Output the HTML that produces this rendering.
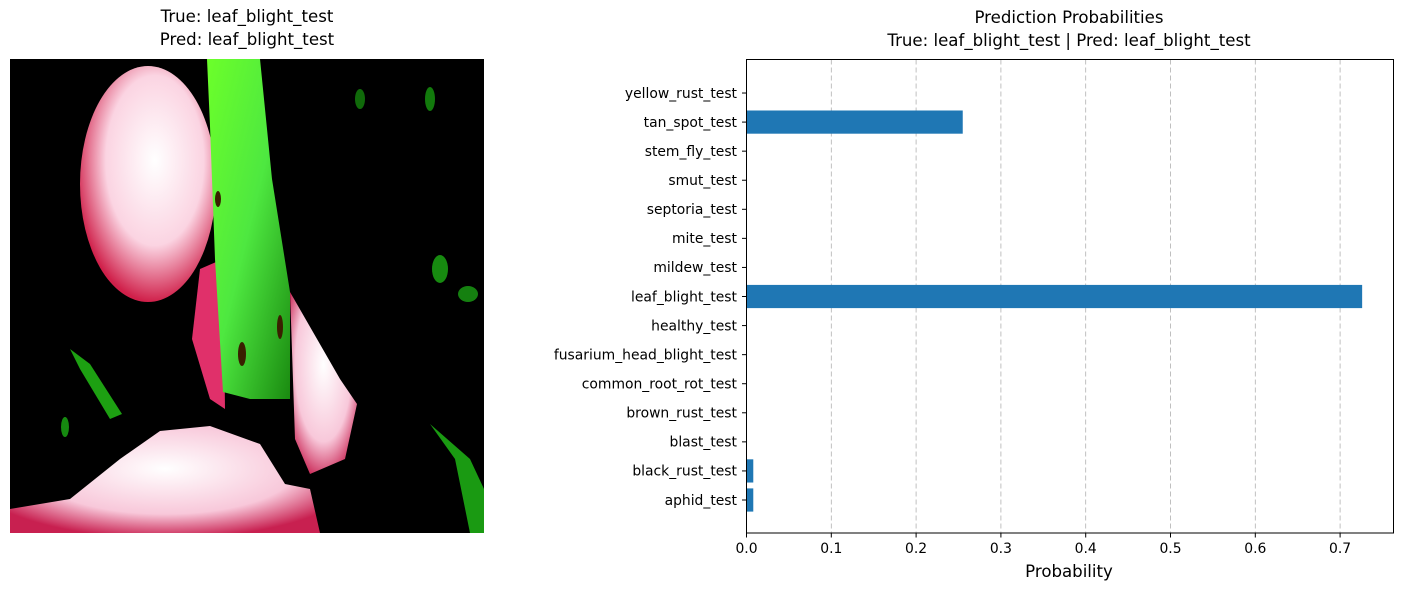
<!DOCTYPE html>
<html><head><meta charset="utf-8">
<style>
body{margin:0;background:#fff;width:1403px;height:590px;overflow:hidden;font-family:"DejaVu Sans","Liberation Sans",sans-serif;}
svg{position:absolute;left:0;top:0}
</style></head>
<body>
<svg width="1403" height="590" xmlns="http://www.w3.org/2000/svg" font-family="DejaVu Sans, Liberation Sans, sans-serif">
  <defs>
    <radialGradient id="pk" cx="0.55" cy="0.4" r="0.6">
      <stop offset="0" stop-color="#ffffff"/><stop offset="0.6" stop-color="#fbd4e2"/><stop offset="1" stop-color="#d0204a"/>
    </radialGradient>
    <radialGradient id="pk2" cx="0.5" cy="0.4" r="0.65">
      <stop offset="0" stop-color="#ffffff"/><stop offset="0.65" stop-color="#f8c8da"/><stop offset="1" stop-color="#c82050"/>
    </radialGradient>
    <linearGradient id="gr" x1="0" y1="0" x2="1" y2="1">
      <stop offset="0" stop-color="#6cff2a"/><stop offset="0.5" stop-color="#4ee840"/><stop offset="1" stop-color="#1a8a10"/>
    </linearGradient>
  </defs>
  <text x="247" y="22" font-size="16.6" text-anchor="middle">True: leaf_blight_test</text>
  <text x="247" y="45" font-size="16.6" text-anchor="middle">Pred: leaf_blight_test</text>
  <g transform="translate(10,59)">
    <rect width="474" height="474" fill="#000"/>
    <ellipse cx="138" cy="125" rx="68" ry="118" fill="url(#pk)"/>
    <path d="M280 233 L330 320 L347 345 L335 400 L300 415 L285 380 Z" fill="url(#pk2)"/>
    <path d="M190 210 L213 200 L215 350 L200 340 L182 280 Z" fill="#e0306a"/>
    <path d="M197 0 L250 0 L262 120 L280 233 L280 340 L240 340 L213 333 L205 200 L200 67 Z" fill="url(#gr)"/>
    <ellipse cx="208" cy="140" rx="3" ry="8" fill="#3a2000"/>
    <ellipse cx="232" cy="295" rx="4" ry="12" fill="#3a2000"/>
    <ellipse cx="270" cy="268" rx="3" ry="12" fill="#3a2000"/>
    <path d="M0 474 L0 450 L60 440 L110 400 L150 372 L200 367 L250 385 L275 425 L300 430 L310 474 Z" fill="url(#pk2)"/>
    <path d="M60 290 L80 305 L112 355 L100 360 L70 310 Z" fill="#1da012"/>
    <path d="M420 365 L460 400 L474 430 L474 474 L460 474 L445 400 Z" fill="#1a9a12"/>
    <ellipse cx="430" cy="210" rx="8" ry="14" fill="#178a10"/>
    <ellipse cx="458" cy="235" rx="10" ry="8" fill="#158010"/>
    <ellipse cx="420" cy="40" rx="5" ry="12" fill="#127a0c"/>
    <ellipse cx="350" cy="40" rx="5" ry="10" fill="#106a0a"/>
    <ellipse cx="55" cy="368" rx="4" ry="10" fill="#168a10"/>
  </g>

  <text x="1069" y="23" font-size="16.6" text-anchor="middle">Prediction Probabilities</text>
  <text x="1069" y="46" font-size="16.6" text-anchor="middle">True: leaf_blight_test | Pred: leaf_blight_test</text>
  <g id="grid"></g>
  <g id="bars"></g>
  <rect x="746.5" y="59.5" width="647" height="473.5" fill="none" stroke="#000" stroke-width="1"/>
  <g id="yt" font-size="13.9"></g>
  <g id="xt" font-size="13.9"></g>
  <text x="1069" y="577" font-size="16.6" text-anchor="middle">Probability</text>
</svg>
<script>
const categories=["aphid_test","black_rust_test","blast_test","brown_rust_test","common_root_rot_test","fusarium_head_blight_test","healthy_test","leaf_blight_test","mildew_test","mite_test","septoria_test","smut_test","stem_fly_test","tan_spot_test","yellow_rust_test"];
const probs=[0.008,0.008,0.0005,0.0005,0.0003,0.0003,0.0003,0.726,0.0003,0.0003,0.0003,0.0003,0.0003,0.255,0.0003];
const xTicks=[0,0.1,0.2,0.3,0.4,0.5,0.6,0.7];
const xTickLabels=["0.0","0.1","0.2","0.3","0.4","0.5","0.6","0.7"];
const NS="http://www.w3.org/2000/svg";
const x0=746.5, pxPer=848;
function X(v){return x0+v*pxPer;}
function Y(i){return 500-i*29.07;}
const grid=document.getElementById('grid'),bars=document.getElementById('bars'),yt=document.getElementById('yt'),xt=document.getElementById('xt');
function mk(tag,attrs,parent){const e=document.createElementNS(NS,tag);for(const k in attrs)e.setAttribute(k,attrs[k]);parent.appendChild(e);return e;}
xTicks.forEach((v,i)=>{
  const g=mk('line',{x1:X(v),x2:X(v),y1:59.5,y2:533,stroke:'#b0b0b0','stroke-dasharray':'5,3','stroke-width':0.8},grid);
  
  
  const t=mk('line',{x1:X(v),x2:X(v),y1:533,y2:537.5,stroke:'#000'},xt);
  
  
  const l=mk('text',{x:X(v),y:553,'text-anchor':'middle'},xt);
  l.textContent=xTickLabels[i];
  
  
});
categories.forEach((c,i)=>{
  const y=Y(i);
  const b=mk('rect',{x:x0,y:y-11.6,width:Math.max(0,X(probs[i])-x0),height:23.2,fill:'#1f77b4'},bars);
  
  
  const t=mk('line',{x1:742,x2:746.5,y1:y,y2:y,stroke:'#000'},yt);
  
  
  const l=mk('text',{x:737,y:y+4.8,'text-anchor':'end'},yt);
  l.textContent=c;
  
  
});
</script>
</body></html>
